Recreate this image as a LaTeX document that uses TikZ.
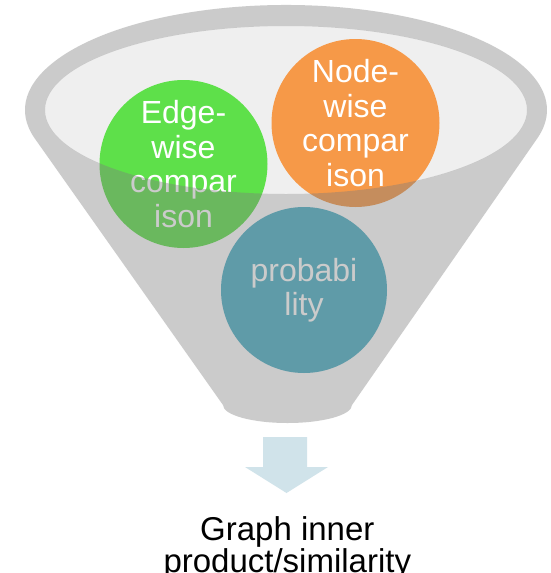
\documentclass[tikz,border=0pt]{standalone}
\usepackage{fontspec}
\setmainfont{Liberation Sans}
\definecolor{edgegreen}{RGB}{94,224,74}
\definecolor{nodeorange}{RGB}{246,153,72}
\definecolor{probteal}{RGB}{75,175,197}
\definecolor{funnelgray}{RGB}{125,125,125}
\definecolor{rimlight}{RGB}{239,239,239}
\definecolor{arrowblue}{RGB}{208,227,234}
\begin{document}
\begin{tikzpicture}[x=1pt,y=1pt,
  bubble/.style={circle, inner sep=0pt, minimum size=168pt, text=white,
    align=center, font=\fontsize{32}{34.4}\selectfont},
  funnelfront/.style={fill=funnelgray, fill opacity=0.4, even odd rule},
  resulttext/.style={font=\fontsize{33}{32}\selectfont, align=center,
    anchor=north, inner sep=0pt, text=black}]
\useasboundingbox (0,0) rectangle (551,-573);
\fill[white] (0,0) rectangle (551,-573);

% opening of the funnel
\fill[rimlight] (286,-110) ellipse[x radius=241, y radius=84];

% the three inputs
\node[bubble, fill=edgegreen] (edge) at (183.5,-164) {Edge-\\wise\\compar\\ison};
\node[bubble, fill=nodeorange] (nodew) at (355.5,-123) {Node-\\wise\\compar\\ison};
\node[bubble, fill=probteal, minimum size=166pt] (prob) at (304,-290) {probabi\\lity};

% translucent funnel body, open where the rim is
\fill[funnelfront]
  (286,-110) ++(195.86:261 and 105)
    arc[start angle=195.86, end angle=-15.62, x radius=261, y radius=105]
    -- (352,-405)
    arc[start angle=0, end angle=-180, x radius=64.5, y radius=18]
    -- cycle
  (286,-110) ellipse[x radius=241, y radius=84];

% output arrow
\fill[arrowblue] (263,-437) -- (307,-437) -- (307,-467) -- (328,-467)
  -- (286.5,-493) -- (245,-467) -- (263,-467) -- cycle;

% result
\node[resulttext] (result) at (287.3,-516.4) {Graph inner\\product/similarity};
\end{tikzpicture}
\end{document}
